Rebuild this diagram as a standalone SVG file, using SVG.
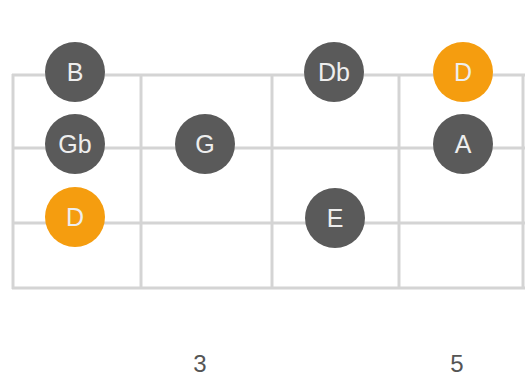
<svg xmlns="http://www.w3.org/2000/svg" width="525" height="378" viewBox="0 0 525 378">
<style>
.grid line{stroke:#d4d4d4;stroke-width:3}
.n circle{fill:#5a5a5a}
.r circle{fill:#f59d0f}
.n text,.r text{font-family:"Liberation Sans",Arial,sans-serif;font-size:25px;fill:#eeeeee;text-anchor:middle;dominant-baseline:central}
.fret{font-family:"Liberation Sans",Arial,sans-serif;font-size:24px;fill:#555;text-anchor:middle}
</style>
<rect width="525" height="378" fill="#fff"/>
<g id="grid" class="grid">
<line x1="12" y1="75" x2="525" y2="75"/>
<line x1="12" y1="148" x2="525" y2="148"/>
<line x1="12" y1="223" x2="525" y2="223"/>
<line x1="12" y1="288" x2="525" y2="288"/>
<line x1="13" y1="74" x2="13" y2="289"/>
<line x1="141" y1="74" x2="141" y2="289"/>
<line x1="272" y1="74" x2="272" y2="289"/>
<line x1="399" y1="74" x2="399" y2="289"/>
<line x1="523" y1="74" x2="523" y2="289"/>
</g>
<g id="connectors"></g>
<g id="note-B" class="n"><circle cx="75" cy="72" r="30"/><text x="75" y="72">B</text></g>
<g id="note-Gb" class="n"><circle cx="75" cy="144" r="30"/><text x="75" y="144">Gb</text></g>
<g id="note-D1" class="r"><circle cx="75" cy="217" r="30"/><text x="75" y="217">D</text></g>
<g id="note-G" class="n"><circle cx="205" cy="144" r="30"/><text x="205" y="144">G</text></g>
<g id="note-Db" class="n"><circle cx="334" cy="72" r="30"/><text x="334" y="72">Db</text></g>
<g id="note-E" class="n"><circle cx="335" cy="218" r="30"/><text x="335" y="218">E</text></g>
<g id="note-D2" class="r"><circle cx="463" cy="72" r="30"/><text x="463" y="72">D</text></g>
<g id="note-A" class="n"><circle cx="463" cy="144" r="30"/><text x="463" y="144">A</text></g>
<g id="frets">
<text class="fret" x="200" y="372">3</text>
<text class="fret" x="457" y="372">5</text>
</g>
</svg>
